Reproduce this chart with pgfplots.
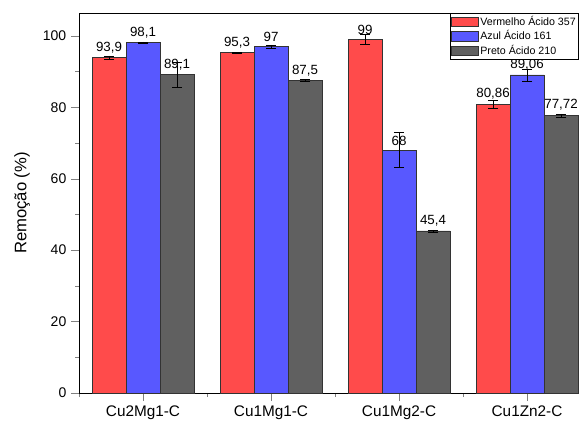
\documentclass[border=0pt]{standalone}
\usepackage{fontspec}
\setmainfont{Liberation Sans}
\usepackage{pgfplots}
\usepackage{pgfplotstable}
\pgfplotsset{compat=1.18}
\definecolor{cred}{RGB}{255,75,75}
\definecolor{cblue}{RGB}{88,88,255}
\definecolor{cgray}{RGB}{96,96,96}

\pgfplotstableread{
x y err
0.7344 93.9 0.5
1.7344 95.3 0.15
2.7344 99.0 1.4
3.7344 80.86 1.0
}\tred
\pgfplotstableread{
x y err
1 98.1 0.2
2 97.0 0.5
3 68.0 4.9
4 89.06 1.7
}\tblue
\pgfplotstableread{
x y err
1.2656 89.1 3.5
2.2656 87.5 0.3
3.2656 45.4 0.3
4.2656 77.72 0.4
}\tgray

\begin{document}
\begin{tikzpicture}
\begin{axis}[
  scale only axis,
  width=375pt, height=285pt,
  xmin=0.5, xmax=4.406,
  ymin=0, ymax=106.4,
  axis x line*=box, axis y line*=left,
  xtick pos=left, ytick pos=left,
  tick align=outside,
  major tick length=6pt, minor tick length=3pt,
  xtick={1,2,3,4},
  xticklabels={Cu2Mg1-C,Cu1Mg1-C,Cu1Mg2-C,Cu1Zn2-C},
  minor xtick={0.5,1.5,2.5,3.5},
  ytick={0,20,40,60,80,100},
  minor ytick={10,30,50,70,90},
  /pgf/number format/assume math mode=true,
  tick label style={font=\fontsize{10.5}{12}\selectfont},
  xticklabel style={font=\fontsize{11.5}{13}\selectfont},
  ylabel={Remoção (\%)},
  ylabel style={at={(axis description cs:-0.114,0.5)}, anchor=center, font=\fontsize{12.5}{14}\selectfont},
  ybar, bar width=0.2656, bar shift=0pt,
  nodes near coords,
  nodes near coords style={font=\fontsize{10}{12}\selectfont, /pgf/number format/.cd, use comma, precision=2, assume math mode=true},
  every axis plot/.append style={draw=black!80, line width=0.5pt},
  legend style={at={(rel axis cs:1,1)}, anchor=north east, draw=black, font=\fontsize{8}{9}\selectfont, inner sep=1pt, row sep=0pt, nodes={inner sep=1.2pt}, cells={anchor=west}},
  legend image code/.code={\draw[#1] (0pt,-3.6pt) rectangle (20pt,3.6pt);},
]
\addplot[fill=cred, error bars/.cd, y dir=both, y explicit, error mark options={rotate=90, mark size=3.8pt, black}, error bar style={black, line width=0.5pt}] table[x=x, y=y, y error=err] {\tred};
\addplot[fill=cblue, error bars/.cd, y dir=both, y explicit, error mark options={rotate=90, mark size=3.8pt, black}, error bar style={black, line width=0.5pt}] table[x=x, y=y, y error=err] {\tblue};
\addplot[fill=cgray, error bars/.cd, y dir=both, y explicit, error mark options={rotate=90, mark size=3.8pt, black}, error bar style={black, line width=0.5pt}] table[x=x, y=y, y error=err] {\tgray};
\legend{Vermelho Ácido 357, Azul Ácido 161, Preto Ácido 210}
\end{axis}
\pgfresetboundingbox
\path ([xshift=-59.25pt,yshift=-21pt]current axis.south west) rectangle ([yshift=9.75pt]current axis.north east);
\end{tikzpicture}
\end{document}
